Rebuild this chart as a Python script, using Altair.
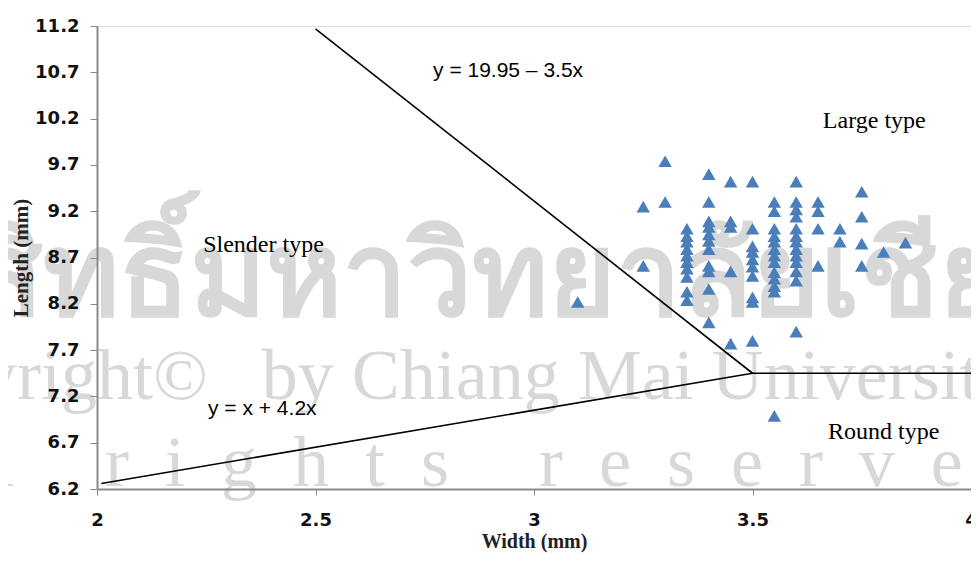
import altair as alt
import pandas as pd

# ---- data ----
widths = (
    [3.10]
    + [3.25] * 2
    + [3.30] * 2
    + [3.35] * 10
    + [3.40] * 11
    + [3.45] * 5
    + [3.50] * 10
    + [3.55] * 13
    + [3.60] * 13
    + [3.65] * 4
    + [3.70] * 2
    + [3.75] * 4
    + [3.80]
    + [3.85]
)
lengths = (
    [8.22]
    + [9.25, 8.61]
    + [9.74, 9.30]
    + [9.01, 8.93, 8.87, 8.79, 8.72, 8.65, 8.58, 8.49, 8.33, 8.24]
    + [9.60, 9.30, 9.09, 9.03, 8.95, 8.88, 8.79, 8.61, 8.55, 8.36, 8.00]
    + [9.52, 9.09, 9.03, 8.55, 7.77]
    + [9.52, 9.01, 8.82, 8.76, 8.68, 8.60, 8.50, 8.27, 8.22, 7.80]
    + [9.30, 9.20, 9.01, 8.93, 8.87, 8.79, 8.72, 8.65, 8.54, 8.47, 8.39, 8.33, 6.99]
    + [9.52, 9.30, 9.22, 9.14, 9.01, 8.93, 8.87, 8.79, 8.72, 8.65, 8.55, 8.45, 7.90]
    + [9.30, 9.20, 9.01, 8.61]
    + [9.01, 8.87]
    + [9.41, 9.14, 8.85, 8.61]
    + [8.76]
    + [8.86]
)

# boundary lines
line_id = ["upper", "upper", "lower", "lower", "lower"]
line_x = [2.5, 3.5, 2.01, 3.5, 4.0]
line_y = [11.17, 7.45, 6.26, 7.45, 7.45]
line_order = [0, 1, 0, 1, 2]

# annotations
ann_text = ["y = 19.95 \u2013 3.5x", "y = x + 4.2x"]
ann_x = [2.769, 2.254]
ann_y = [10.714, 7.064]

type_text = ["Large type", "Slender type", "Round type"]
type_x = [3.661, 2.243, 3.673]
type_y = [10.174, 8.835, 6.816]

# watermark
NB = "\u00a0"
wm_text = [
    "Copyright\u00a9" + NB * 3 + "by Chiang Mai University",
    (NB * 2).join("All") + NB * 5 + (NB * 2).join("rights") + NB * 5 + (NB * 2).join("reserved"),
]
wm_x = [1.46, 1.437]
wm_y = [7.172, 6.232]
wm_size = [72, 72]
thai_text = ["ลิขสิทธิ์มหาวิทยาลัยเชียงใหม่"]
thai_x = [3.03]
thai_y = [8.08]

y_ticks = [6.2, 6.7, 7.2, 7.7, 8.2, 8.7, 9.2, 9.7, 10.2, 10.7, 11.2]
x_ticks = [2, 2.5, 3, 3.5, 4]

pts = pd.DataFrame({"w": widths, "l": lengths})
lines = pd.DataFrame({"id": line_id, "w": line_x, "l": line_y, "o": line_order})
ann = pd.DataFrame({"t": ann_text, "w": ann_x, "l": ann_y})
types = pd.DataFrame({"t": type_text, "w": type_x, "l": type_y})
wm = pd.DataFrame({"t": wm_text, "w": wm_x, "l": wm_y, "s": wm_size})
thai = pd.DataFrame({"t": thai_text, "w": thai_x, "l": thai_y})

xs = alt.Scale(domain=[2, 4], nice=False, zero=False)
ys = alt.Scale(domain=[6.2, 11.2], nice=False, zero=False)

x_axis = alt.Axis(
    values=x_ticks, title="Width (mm)", grid=False, format="~g", zindex=1,
    labelFont="DejaVu Sans", labelFontWeight="bold", labelFontSize=18, labelColor="#111",
    labelPadding=16, tickSize=6, tickColor="#8a8a8a", domainColor="#8a8a8a", domainWidth=2,
    titleFont="Liberation Serif", titleFontWeight="bold", titleFontSize=20, titleColor="#222",
    titlePadding=2, labelFlush=False,
)
y_axis = alt.Axis(
    values=y_ticks, title="Length (mm)", grid=False, format=".1f", zindex=1,
    labelFont="DejaVu Sans", labelFontWeight="bold", labelFontSize=18, labelColor="#111",
    labelPadding=11, tickSize=7, tickColor="#8a8a8a", domainColor="#8a8a8a", domainWidth=2,
    titleFont="Liberation Serif", titleFontWeight="bold", titleFontSize=21, titleColor="#222",
    titlePadding=3, labelFlush=False,
)

wm_layer = alt.Chart(wm).mark_text(
    font="Liberation Serif", color="#d8d8d8", align="left", baseline="alphabetic"
).encode(
    x=alt.X("w:Q", scale=xs, axis=x_axis),
    y=alt.Y("l:Q", scale=ys, axis=y_axis),
    text="t:N",
    size=alt.Size("s:Q", scale=None, legend=None),
)
thai_layer = alt.Chart(thai).mark_text(
    font="Noto Sans", fontSize=116, fontWeight="bold", color="#d8d8d8", align="center", baseline="alphabetic"
).encode(x=alt.X("w:Q", scale=xs), y=alt.Y("l:Q", scale=ys), text="t:N")

line_layer = alt.Chart(lines).mark_line(color="black", strokeWidth=1.6).encode(
    x=alt.X("w:Q", scale=xs), y=alt.Y("l:Q", scale=ys), detail="id:N", order="o:Q"
)
pt_layer = alt.Chart(pts).mark_point(
    shape="triangle-up", filled=True, size=180, color="#4a7ebb", opacity=1
).encode(x=alt.X("w:Q", scale=xs), y=alt.Y("l:Q", scale=ys))

ann_layer = alt.Chart(ann).mark_text(
    font="Liberation Sans", fontSize=21, color="black", align="left", baseline="middle"
).encode(x=alt.X("w:Q", scale=xs), y=alt.Y("l:Q", scale=ys), text="t:N")
type_layer = alt.Chart(types).mark_text(
    font="Liberation Serif", fontSize=24, color="black", align="left", baseline="middle"
).encode(x=alt.X("w:Q", scale=xs), y=alt.Y("l:Q", scale=ys), text="t:N")

chart = alt.layer(wm_layer, thai_layer, line_layer, pt_layer, ann_layer, type_layer).properties(
    width=874, height=463,
    autosize=alt.AutoSizeParams(type="none"),
    padding={"left": 89, "top": 18, "right": 0, "bottom": 64},
).configure_view(stroke=None).configure(background="white")

chart.save("out.html", embed_options={"renderer": "svg", "actions": False})
